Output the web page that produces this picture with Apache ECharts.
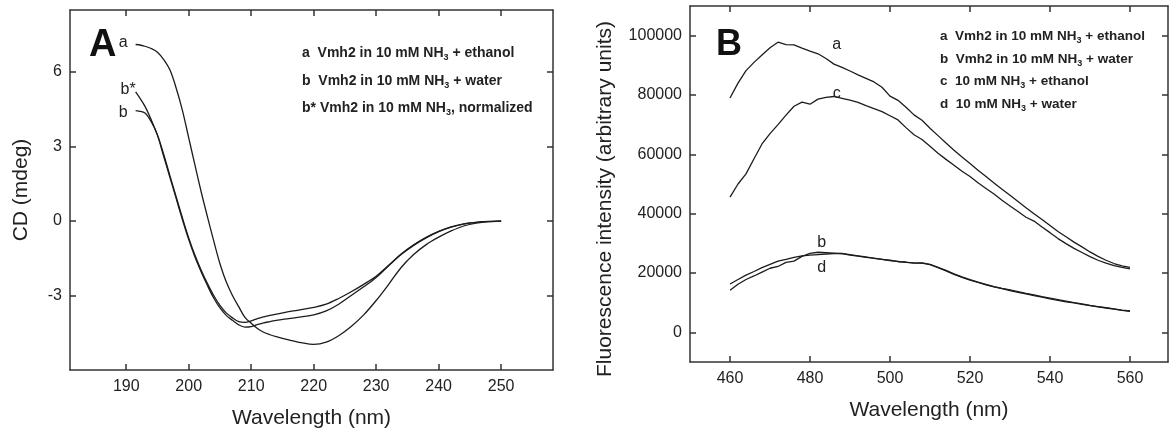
<!DOCTYPE html>
<html>
<head>
<meta charset="utf-8">
<script src="https://cdn.jsdelivr.net/npm/echarts@6/dist/echarts.min.js"></script>
<style>
html,body{margin:0;padding:0;background:#fff;}
#chart{width:1169px;height:434px;}
</style>
</head>
<body>
<div id="chart"></div>
<script>
// ---------- Panel A: CD spectra ----------
const cdX = [191.5,192,193,194,195,196,197,198,199,200,201,202,203,204,205,206,207,208,209,210,211,212,213,214,216,218,220,222,224,226,228,230,232,234,236,238,240,242,244,246,248,250];
const cdA = [7.11,7.10,7.04,6.95,6.80,6.50,6.08,5.35,4.45,3.35,2.25,1.17,0.17,-0.80,-1.72,-2.45,-3.00,-3.45,-3.88,-4.12,-4.33,-4.48,-4.58,-4.66,-4.79,-4.90,-4.97,-4.88,-4.62,-4.25,-3.78,-3.20,-2.55,-1.87,-1.35,-0.95,-0.65,-0.40,-0.20,-0.08,-0.02,0];
const cdB = [4.45,4.43,4.35,4.00,3.47,2.68,1.82,0.97,0.12,-0.68,-1.38,-1.98,-2.52,-3.00,-3.40,-3.70,-3.90,-4.05,-4.08,-4.02,-3.93,-3.86,-3.80,-3.75,-3.65,-3.57,-3.48,-3.35,-3.12,-2.85,-2.55,-2.22,-1.78,-1.33,-0.96,-0.66,-0.42,-0.24,-0.11,-0.05,-0.01,0];
const cdBStar = [5.20,5.02,4.62,4.08,3.45,2.60,1.75,0.90,0.05,-0.75,-1.45,-2.05,-2.60,-3.10,-3.50,-3.80,-4.00,-4.18,-4.27,-4.25,-4.17,-4.10,-4.05,-4.00,-3.93,-3.86,-3.78,-3.62,-3.35,-3.00,-2.65,-2.27,-1.80,-1.35,-0.98,-0.68,-0.43,-0.25,-0.12,-0.05,-0.02,0];
const cdXTicks = [190,200,210,220,230,240,250];
const cdYTicks = [-3,0,3,6];

// ---------- Panel B: fluorescence spectra ----------
const flX = [460,462,464,466,468,470,472,474,476,478,480,482,484,486,488,490,492,494,496,498,500,502,504,506,508,510,512,514,516,518,520,522,524,526,528,530,532,534,536,538,540,542,544,546,548,550,552,554,556,558,560];
const flA = [79000,84000,88200,91000,93500,95900,97800,97000,96900,95800,94800,93900,92300,90400,89300,88100,86800,85600,84400,82600,79600,78200,75900,73300,71500,68800,66300,63800,61400,59100,56900,54600,52500,50300,48200,46200,44100,42000,40000,38000,36000,34000,32200,30400,28800,27100,25600,24300,23200,22400,21900];
const flB = [14200,16200,17800,19000,20300,21600,22200,23600,24000,25600,26600,27000,26900,26700,26500,26000,25700,25300,25000,24600,24200,23900,23600,23400,23300,22800,21800,20700,19500,18500,17600,16800,16000,15300,14700,14100,13500,13000,12400,11900,11300,10800,10300,9900,9400,9000,8600,8200,7800,7400,7100];
const flC = [45600,50000,53400,58500,63500,67000,70000,73200,76200,77600,76900,78600,79200,79500,78900,78300,77500,76400,75400,74400,73000,71600,69000,66600,65000,62700,60400,58300,56300,54300,52500,50400,48500,46600,44500,42600,40700,38800,37500,35500,33600,31600,29900,28300,26900,25500,24300,23300,22500,21900,21400];
const flD = [16300,17800,19300,20500,21800,22900,24000,24600,25300,25800,26000,26200,26400,26500,26600,26200,25800,25400,24900,24600,24300,23800,23700,23300,23400,22900,21900,20900,19700,18700,17800,16900,16200,15400,14800,14300,13700,13100,12600,12000,11500,11000,10500,10000,9600,9100,8700,8300,7900,7500,7200];
const flXTicks = [460,480,500,520,540,560];
const flYTicks = [0,20000,40000,60000,80000,100000];

const FONT = "'Liberation Sans', Arial, Helvetica, sans-serif";
const INK = '#222';
const LINE = '#1c1c1c';

const chart = echarts.init(document.getElementById('chart'), null, {renderer: 'canvas'});

function pairs(xs, ys) { return xs.map((x, i) => [x, ys[i]]); }

function mainX(grid, min, max, ticks, name) {
  return {
    type: 'value', gridIndex: grid, position: 'bottom', min: min, max: max,
    name: name, nameLocation: 'middle', nameGap: 38,
    nameTextStyle: {fontFamily: FONT, fontSize: 21, color: INK},
    axisLine: {show: true, onZero: false, lineStyle: {color: '#333', width: 1.5}},
    axisTick: {show: true, inside: true, length: 6, customValues: ticks, lineStyle: {color: '#333', width: 1.5}},
    axisLabel: {show: true, customValues: ticks, margin: 9, fontFamily: FONT, fontSize: 16, color: INK},
    splitLine: {show: false}
  };
}
function mirrorX(grid, min, max, ticks) {
  return {
    type: 'value', gridIndex: grid, position: 'top', min: min, max: max,
    axisLine: {show: true, onZero: false, lineStyle: {color: '#333', width: 1.5}},
    axisTick: {show: true, inside: true, length: 6, customValues: ticks, lineStyle: {color: '#333', width: 1.5}},
    axisLabel: {show: false}, splitLine: {show: false}
  };
}
function mainY(grid, min, max, ticks, name, gap, pad) {
  return {
    type: 'value', gridIndex: grid, position: 'left', min: min, max: max,
    name: name, nameLocation: 'middle', nameGap: gap,
    nameTextStyle: {fontFamily: FONT, fontSize: 21, color: INK, padding: pad},
    axisLine: {show: true, onZero: false, lineStyle: {color: '#333', width: 1.5}},
    axisTick: {show: true, inside: true, length: 6, customValues: ticks, lineStyle: {color: '#333', width: 1.5}},
    axisLabel: {show: true, customValues: ticks, margin: 8, fontFamily: FONT, fontSize: 16, color: INK,
      formatter: v => String(v)},
    splitLine: {show: false}
  };
}
function mirrorY(grid, min, max, ticks) {
  return {
    type: 'value', gridIndex: grid, position: 'right', min: min, max: max,
    axisLine: {show: true, onZero: false, lineStyle: {color: '#333', width: 1.5}},
    axisTick: {show: true, inside: true, length: 6, customValues: ticks, lineStyle: {color: '#333', width: 1.5}},
    axisLabel: {show: false}, splitLine: {show: false}
  };
}

function lineSeries(data, xi, yi, smooth, tag, coord) {
  const s = {
    type: 'line', xAxisIndex: xi, yAxisIndex: yi, data: data,
    showSymbol: false, symbol: 'none', smooth: smooth, animation: false,
    lineStyle: {color: LINE, width: 1.3}, z: 3
  };
  if (tag) {
    s.markPoint = {
      symbol: 'circle', symbolSize: 0, animation: false,
      data: [{coord: coord, value: tag}],
      label: {show: true, position: 'inside', formatter: tag, fontFamily: FONT, fontSize: 16, color: INK}
    };
  }
  return s;
}

function legendLine(x, y, pre, post, size) {
  return {
    type: 'text', x: x, y: y,
    style: {
      text: '{t|' + pre + '}{s|3}{t|' + post + '}',
      align: 'left', verticalAlign: 'middle',
      rich: {
        t: {fontFamily: FONT, fontSize: size, fontWeight: 'bold', fill: INK, lineHeight: 18},
        s: {fontFamily: FONT, fontSize: 9, fontWeight: 'bold', fill: INK, lineHeight: 18, verticalAlign: 'bottom', padding: [6, 0, 0, 0]}
      }
    }
  };
}

const option = {
  backgroundColor: '#fff',
  animation: false,
  grid: [
    {left: 70, top: 10, width: 483, height: 360, containLabel: false},
    {left: 690, top: 6, width: 478, height: 356, containLabel: false}
  ],
  xAxis: [
    mainX(0, 181, 258.3, cdXTicks, 'Wavelength (nm)'),
    mirrorX(0, 181, 258.3, cdXTicks),
    mainX(1, 450, 569.5, flXTicks, 'Wavelength (nm)'),
    mirrorX(1, 450, 569.5, flXTicks)
  ],
  yAxis: [
    mainY(0, -6, 8.5, cdYTicks, 'CD (mdeg)', 38, [0, 0, 0, 0]),
    mirrorY(0, -6, 8.5, cdYTicks),
    mainY(1, -10000, 110000, flYTicks, 'Fluorescence intensity (arbitrary units)', 74, [0, 30, 0, 0]),
    mirrorY(1, -10000, 110000, flYTicks)
  ],
  series: [
    lineSeries(pairs(cdX, cdA), 0, 0, 0.35, 'a', [189.5, 7.17]),
    lineSeries(pairs(cdX, cdBStar), 0, 0, 0.35, 'b*', [190.3, 5.31]),
    lineSeries(pairs(cdX, cdB), 0, 0, 0.35, 'b', [189.5, 4.36]),
    lineSeries(pairs(flX, flA), 2, 2, false, 'a', [486.7, 97000]),
    lineSeries(pairs(flX, flB), 2, 2, false, 'b', [482.9, 30300]),
    lineSeries(pairs(flX, flC), 2, 2, false, 'c', [486.7, 80600]),
    lineSeries(pairs(flX, flD), 2, 2, false, 'd', [482.9, 21700])
  ],
  graphic: [
    {type: 'text', x: 89, y: 46, style: {text: 'A', fontFamily: FONT, fontSize: 38, fontWeight: 'bold', fill: '#111', align: 'left', verticalAlign: 'middle'}},
    {type: 'text', x: 716, y: 45, style: {text: 'B', fontFamily: FONT, fontSize: 36, fontWeight: 'bold', fill: '#111', align: 'left', verticalAlign: 'middle'}},
    legendLine(302, 53, 'a  Vmh2 in 10 mM NH', ' + ethanol', 14),
    legendLine(302, 81, 'b  Vmh2 in 10 mM NH', ' + water', 14),
    legendLine(302, 108, 'b* Vmh2 in 10 mM NH', ', normalized', 14),
    legendLine(940, 36, 'a  Vmh2 in 10 mM NH', ' + ethanol', 13.5),
    legendLine(940, 59, 'b  Vmh2 in 10 mM NH', ' + water', 13.5),
    legendLine(940, 81, 'c  10 mM NH', ' + ethanol', 13.5),
    legendLine(940, 104, 'd  10 mM NH', ' + water', 13.5)
  ]
};
chart.setOption(option);
</script>
</body>
</html>
